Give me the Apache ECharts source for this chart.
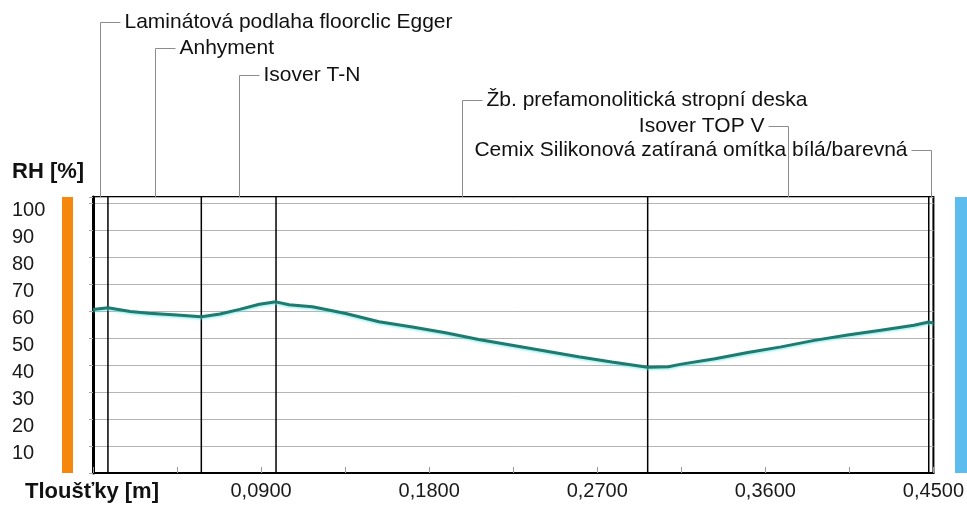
<!DOCTYPE html>
<html>
<head>
<meta charset="utf-8">
<script src="https://cdn.jsdelivr.net/npm/echarts@6/dist/echarts.min.js"></script>
<style>
html,body{margin:0;padding:0;background:#fff;}
#chart{width:967px;height:505px;}
</style>
</head>
<body>
<div id="chart"></div>
<script>
// Layer boundaries (m) and names
const layerBounds = [0, 0.008, 0.058, 0.098, 0.297, 0.4475, 0.45];
const layerNames = [
  'Laminátová podlaha floorclic Egger',
  'Anhyment',
  'Isover T-N',
  'Žb. prefamonolitická stropní deska',
  'Isover TOP V',
  'Cemix Silikonová zatíraná omítka bílá/barevná'
];
const labelSides = ['right', 'right', 'right', 'right', 'left', 'left'];

// RH profile
const rhX = [0, 0.008, 0.02, 0.03, 0.045, 0.058, 0.068, 0.0785, 0.089, 0.098, 0.105, 0.1175, 0.1354, 0.1532, 0.171, 0.1888, 0.2066, 0.2244, 0.2422, 0.26, 0.2778, 0.297, 0.308, 0.315, 0.333, 0.3506, 0.3684, 0.3862, 0.404, 0.4218, 0.4396, 0.4475, 0.45];
const rhY = [60.7, 61.3, 59.9, 59.3, 58.6, 58.0, 59.0, 60.7, 62.6, 63.5, 62.4, 61.7, 59.2, 56.1, 54.2, 52.0, 49.5, 47.4, 45.3, 43.1, 41.2, 39.2, 39.4, 40.4, 42.4, 44.7, 46.8, 49.2, 51.2, 53.0, 54.8, 56.0, 55.6];

const yTitle = 'RH [%]';
const xTitle = 'Tloušťky [m]';

const FONT = '"Liberation Sans", Arial, sans-serif';
const chart = echarts.init(document.getElementById('chart'), null, {renderer: 'canvas'});

const GRID = {left: 93, right: 31, top: 197, bottom: 32};
const Y_MAX = 102.4;

const boundarySeries = layerBounds.slice(1, -1).map(b => ({
  type: 'line',
  data: [[b, 0], [b, Y_MAX]],
  symbol: 'none',
  silent: true,
  lineStyle: {color: '#000', width: 1.5},
  z: 3
}));

chart.setOption({
  animation: false,
  backgroundColor: '#fff',
  grid: {left: GRID.left, right: GRID.right, top: GRID.top, bottom: GRID.bottom,
         show: true, borderColor: '#000', borderWidth: 2, containLabel: false},
  xAxis: {
    type: 'value', min: 0, max: 0.45, interval: 0.045,
    axisLine: {show: true, onZero: false, lineStyle: {color: '#000', width: 2}},
    axisTick: {show: true, inside: true, length: 6, lineStyle: {color: '#9a9a9a', width: 1}},
    splitLine: {show: false},
    axisLabel: {
      margin: 8, fontFamily: FONT, fontSize: 20, color: '#1a1a1a',
      formatter: function (v) {
        const k = Math.round(v * 1000);
        if (k === 0 || k % 90 !== 0) return '';
        return (k / 1000).toFixed(4).replace('.', ',');
      }
    }
  },
  yAxis: {
    type: 'value', min: 0, max: Y_MAX, interval: 10,
    axisLine: {show: true, lineStyle: {color: '#000', width: 3}},
    axisTick: {show: true, length: 4, lineStyle: {color: '#aaa', width: 1}},
    splitLine: {show: true, lineStyle: {color: '#b4b4b4', width: 1}},
    axisLabel: {
      margin: 81, align: 'left', verticalAlign: 'top', lineHeight: 15,
      fontFamily: FONT, fontSize: 20, color: '#1a1a1a',
      formatter: function (v) {
        const r = Math.round(v * 10) / 10;
        if (r === 0 || r % 10 !== 0) return '';
        return String(r);
      }
    }
  },
  series: boundarySeries.concat([{
    type: 'line',
    data: rhX.map((x, i) => [x, rhY[i]]),
    symbol: 'none',
    smooth: false,
    lineStyle: {color: '#1f7a6f', width: 3, shadowColor: 'rgba(90,230,230,0.55)', shadowBlur: 2, shadowOffsetY: 1.5},
    z: 5
  }])
});

// Decorations: side bars, titles, layer labels with leader lines
const topY = GRID.top;
const botY = 505 - GRID.bottom;
const gridRightX = 967 - GRID.right;
const rowY = [22, 48, 75, 100, 126, 150];
const graphics = [];

graphics.push({type: 'rect', shape: {x: GRID.left - 31, y: topY, width: 11, height: botY - topY},
  style: {fill: '#f5870c'}, silent: true});
graphics.push({type: 'rect', shape: {x: gridRightX + 19, y: topY, width: 12, height: botY - topY},
  style: {fill: '#5cbcee'}, silent: true});

graphics.push({type: 'text', style: {text: yTitle, x: 12, y: 172, font: 'bold 22px ' + FONT,
  fill: '#111', textAlign: 'left', textVerticalAlign: 'middle'}});
graphics.push({type: 'text', style: {text: xTitle, x: 25, y: 492, font: 'bold 22px ' + FONT,
  fill: '#111', textAlign: 'left', textVerticalAlign: 'middle'}});

for (let i = 0; i < layerNames.length; i++) {
  const mid = (layerBounds[i] + layerBounds[i + 1]) / 2;
  const px = Math.round(chart.convertToPixel({gridIndex: 0}, [mid, 0])[0]) + 0.5;
  const y = rowY[i] + 0.5;
  const dir = labelSides[i] === 'right' ? 1 : -1;
  graphics.push({type: 'polyline', shape: {points: [[px, topY], [px, y], [px + dir * 20, y]]},
    style: {stroke: '#8c8c8c', lineWidth: 1, fill: null}, silent: true});
  graphics.push({type: 'text', style: {text: layerNames[i], x: px + dir * 24, y: rowY[i],
    font: '21px ' + FONT, fill: '#111', textAlign: dir > 0 ? 'left' : 'right', textVerticalAlign: 'middle'}});
}

chart.setOption({graphic: graphics});
</script>
</body>
</html>
